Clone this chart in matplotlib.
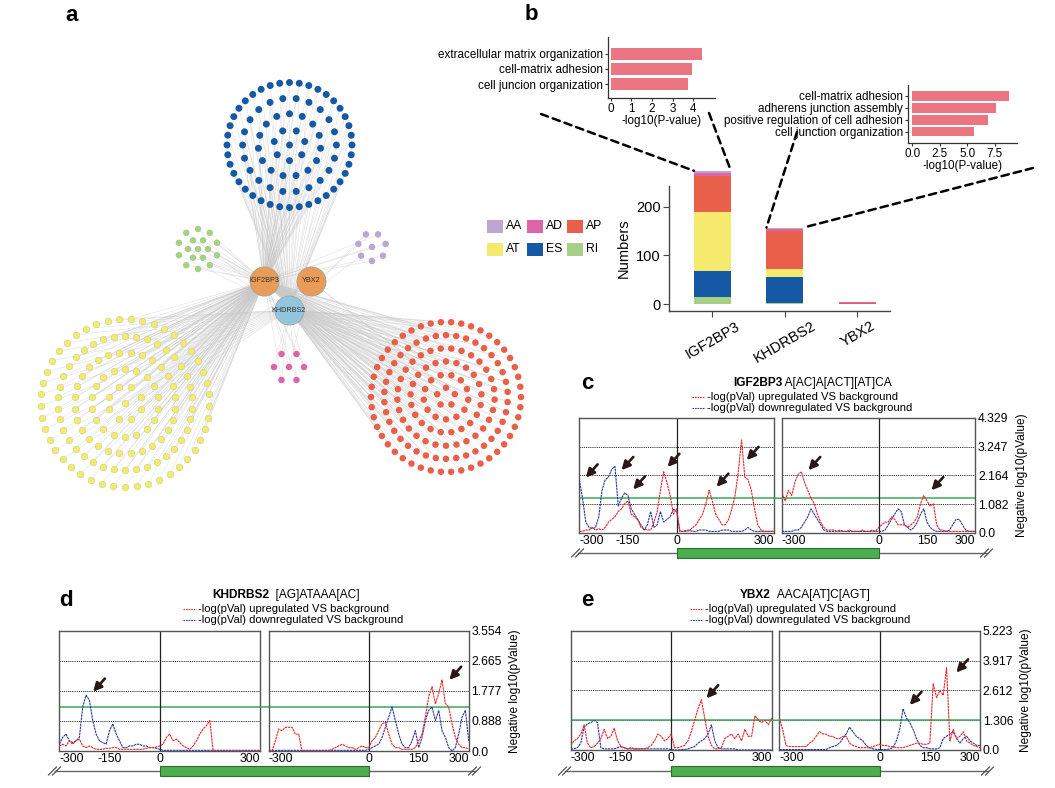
import numpy as np
import matplotlib
matplotlib.use('Agg')
import matplotlib.pyplot as plt
from matplotlib.patches import Rectangle, ConnectionPatch
from matplotlib.collections import LineCollection

plt.rcParams['font.family'] = ['Liberation Sans', 'DejaVu Sans']

# ---------------- data ----------------
categories = ['AA', 'AD', 'AP', 'AT', 'ES', 'RI']
stack_order = ['RI', 'ES', 'AT', 'AP', 'AD', 'AA']
rbps = ['IGF2BP3', 'KHDRBS2', 'YBX2']
counts_RI = [14, 3, 0]
counts_ES = [55, 52, 0]
counts_AT = [120, 17, 1]
counts_AP = [74, 77, 2]
counts_AD = [5, 5, 1]
counts_AA = [5, 3, 0]

# network: nodes per concentric ring (inner -> outer)
rings_ES = [1, 7, 15, 22, 40]
rings_AT = [1, 8, 18, 28, 38, 45]
rings_AP = [5, 13, 21, 29, 38, 46]
rings_RI = [1, 6, 10]
rings_AA = [1, 7]
rings_AD = [1, 6]

go1_terms = ['extracellular matrix organization', 'cell-matrix adhesion', 'cell juncion organization']
go1_values = [4.4, 3.95, 3.75]
go2_terms = ['cell-matrix adhesion', 'adherens junction assembly',
             'positive regulation of cell adhesion', 'cell junction organization']
go2_values = [8.8, 7.6, 6.9, 5.65]

positions = list(range(-300, 301, 10))

c_left_up = [0.05, 0.05, 0.1, 0.1, 0.2, 0.1, 0.15, 0.1, 0.2, 0.4,
             0.5, 0.6, 0.8, 0.9, 1.1, 1.2, 0.7, 0.6, 0.5, 0.2,
             0.15, 0.1, 0.1, 0.4, 0.8, 1.6, 2.3, 1.9, 1.4, 0.7,
             0.9, 0.05, 0.05, 0.1, 0.1, 0.2, 0.3, 0.5, 0.7, 1.1,
             1.6, 1.2, 0.7, 0.5, 0.3, 0.3, 0.5, 0.9, 1.4, 2.3,
             3.5, 2.1, 2.0, 1.6, 0.9, 0.3, 0.1, 0.05, 0.05, 0.05,
             0.05]
c_left_down = [2.0, 1.3, 0.4, 0.2, 0.15, 0.2, 0.6, 1.6, 2.0, 2.1,
               2.4, 2.5, 1.0, 1.3, 1.5, 1.4, 0.9, 0.7, 0.5, 0.3,
               0.1, 0.3, 0.8, 0.2, 0.3, 0.8, 0.4, 0.5, 0.6, 0.9,
               0.8, 0.05, 0.05, 0.05, 0.08, 0.05, 0.05, 0.1, 0.1, 0.1,
               0.05, 0.05, 0.05, 0.05, 0.1, 0.1, 0.1, 0.05, 0.05, 0.05,
               0.05, 0.1, 0.2, 0.1, 0.05, 0.05, 0.05, 0.05, 0.05, 0.05,
               0.05]
c_right_up = [1.5, 1.2, 1.6, 1.4, 1.9, 2.2, 2.3, 1.9, 1.6, 1.3,
              1.1, 0.7, 0.4, 0.2, 0.1, 0.1, 0.1, 0.05, 0.1, 0.05,
              0.05, 0.1, 0.05, 0.05, 0.05, 0.1, 0.05, 0.05, 0.1, 0.05,
              0.2, 0.3, 0.4, 0.4, 0.6, 0.5, 0.3, 0.3, 0.3, 0.2,
              0.3, 0.4, 0.6, 1.1, 1.4, 1.2, 1.0, 1.1, 0.3, 0.1,
              0.1, 0.05, 0.05, 0.05, 0.05, 0.05, 0.05, 0.05, 0.05, 0.05,
              0.05]
c_right_down = [0.05, 0.05, 0.05, 0.05, 0.1, 0.1, 0.2, 0.4, 0.6, 0.9,
                0.7, 0.5, 0.3, 0.1, 0.05, 0.05, 0.05, 0.05, 0.05, 0.05,
                0.05, 0.05, 0.05, 0.05, 0.05, 0.05, 0.05, 0.05, 0.05, 0.05,
                0.05, 0.05, 0.1, 0.3, 0.5, 0.7, 0.9, 0.8, 0.3, 0.2,
                0.1, 0.2, 0.4, 0.7, 0.9, 0.4, 0.2, 0.1, 0.05, 0.05,
                0.05, 0.05, 0.1, 0.3, 0.5, 0.5, 0.3, 0.1, 0.05, 0.05,
                0.05]

d_left_up = [0.15, 0.2, 0.15, 0.3, 0.2, 0.3, 0.35, 0.15, 0.1, 0.15,
             0.1, 0.05, 0.05, 0.05, 0.08, 0.08, 0.1, 0.1, 0.05, 0.05,
             0.05, 0.05, 0.05, 0.05, 0.05, 0.05, 0.08, 0.1, 0.1, 0.12,
             0.15, 0.2, 0.4, 0.5, 0.3, 0.35, 0.25, 0.15, 0.1, 0.05,
             0.15, 0.3, 0.5, 0.65, 0.75, 0.9, 0.0, 0.0, 0.0, 0.0,
             0.0, 0.0, 0.0, 0.0, 0.0, 0.0, 0.0, 0.0, 0.0, 0.0,
             0.0]
d_left_down = [0.2, 0.4, 0.5, 0.3, 0.25, 0.3, 0.4, 1.3, 1.65, 1.5,
               0.9, 0.5, 0.3, 0.25, 0.2, 0.6, 0.8, 0.5, 0.3, 0.1,
               0.1, 0.15, 0.15, 0.2, 0.2, 0.15, 0.15, 0.1, 0.1, 0.08,
               0.05, 0.02, 0.02, 0.02, 0.02, 0.02, 0.02, 0.02, 0.02, 0.02,
               0.02, 0.02, 0.02, 0.02, 0.02, 0.02, 0.02, 0.02, 0.02, 0.02,
               0.02, 0.02, 0.02, 0.02, 0.02, 0.02, 0.02, 0.02, 0.02, 0.02,
               0.02]
d_right_up = [0.0, 0.0, 0.3, 0.65, 0.6, 0.7, 0.7, 0.7, 0.5, 0.5,
              0.0, 0.0, 0.0, 0.0, 0.0, 0.0, 0.0, 0.0, 0.0, 0.05,
              0.1, 0.15, 0.2, 0.15, 0.1, 0.1, 0.05, 0.1, 0.15, 0.1,
              0.1, 0.3, 0.4, 0.6, 0.8, 0.85, 0.5, 0.2, 0.1, 0.1,
              0.05, 0.05, 0.05, 0.05, 0.1, 0.3, 0.5, 1.0, 1.6, 1.9,
              1.4, 1.7, 2.1, 1.4, 1.3, 0.8, 0.4, 0.2, 0.1, 0.1,
              0.05]
d_right_down = [0.02, 0.02, 0.02, 0.02, 0.02, 0.02, 0.02, 0.02, 0.02, 0.02,
                0.02, 0.02, 0.02, 0.02, 0.02, 0.02, 0.02, 0.02, 0.02, 0.02,
                0.02, 0.02, 0.02, 0.02, 0.02, 0.02, 0.02, 0.02, 0.02, 0.02,
                0.05, 0.1, 0.15, 0.2, 0.4, 0.7, 1.0, 1.3, 0.9, 0.5,
                0.2, 0.1, 0.1, 0.3, 0.6, 0.1, 0.4, 0.9, 1.2, 1.3,
                0.9, 1.2, 0.6, 0.4, 0.1, 0.0, 0.1, 0.5, 1.0, 1.2,
                0.3]

e_left_up = [0.2, 0.4, 0.5, 0.7, 1.1, 0.3, 0.1, 0.15, 0.3, 0.5,
             0.9, 0.5, 0.6, 0.95, 0.4, 0.15, 0.1, 0.05, 0.05, 0.05,
             0.05, 0.05, 0.05, 0.1, 0.2, 0.4, 0.7, 0.6, 0.4, 0.5,
             0.7, 0.1, 0.1, 0.15, 0.2, 0.4, 0.8, 1.3, 1.8, 2.2,
             1.4, 0.6, 0.2, 0.05, 0.05, 0.1, 0.5, 0.6, 0.7, 0.5,
             0.7, 0.4, 0.9, 0.6, 0.6, 1.5, 1.3, 1.2, 1.3, 1.1,
             1.4]
e_left_down = [0.05, 0.05, 0.1, 0.3, 1.0, 1.15, 1.2, 1.3, 1.2, 0.1,
               0.05, 0.05, 0.05, 0.05, 0.1, 0.15, 0.1, 0.05, 0.1, 0.05,
               0.05, 0.05, 0.05, 0.05, 0.05, 0.05, 0.05, 0.05, 0.05, 0.05,
               0.02, 0.0, 0.0, 0.02, 0.02, 0.05, 0.1, 0.15, 0.3, 0.4,
               0.5, 0.7, 1.1, 0.4, 0.1, 0.05, 0.05, 0.05, 0.05, 0.05,
               0.0, 0.0, 0.0, 0.0, 0.0, 0.0, 0.0, 0.0, 0.0, 0.0,
               0.0]
e_right_up = [1.4, 0.9, 0.2, 0.15, 0.15, 0.15, 0.15, 0.15, 0.15, 0.3,
              0.4, 0.6, 0.8, 0.7, 0.7, 0.6, 0.6, 0.5, 0.5, 0.6,
              0.6, 0.3, 0.2, 0.15, 0.1, 0.1, 0.1, 0.1, 0.15, 0.2,
              0.25, 0.2, 0.2, 0.15, 0.15, 0.1, 0.1, 0.1, 0.15, 0.2,
              0.25, 0.3, 0.3, 0.25, 0.25, 0.3, 2.9, 2.3, 2.6, 2.4,
              3.6, 0.4, 0.9, 0.5, 0.6, 0.8, 0.4, 0.3, 0.2, 0.15,
              0.1]
e_right_down = [0.02, 0.02, 0.02, 0.02, 0.02, 0.02, 0.02, 0.02, 0.02, 0.02,
                0.02, 0.02, 0.02, 0.02, 0.02, 0.1, 0.15, 0.2, 0.3, 0.5,
                0.7, 1.0, 0.8, 0.6, 0.5, 0.4, 0.2, 0.1, 0.05, 0.03,
                0.02, 0.02, 0.02, 0.05, 0.1, 0.4, 0.9, 1.8, 1.4, 1.2,
                0.9, 0.5, 0.2, 0.1, 0.1, 0.05, 0.05, 0.05, 0.1, 0.5,
                0.6, 0.7, 0.8, 0.5, 0.3, 0.5, 0.6, 0.4, 0.3, 0.2,
                0.2]

c_yticks = ['0.0', '1.082', '2.164', '3.247', '4.329']
d_yticks = ['0.0', '0.888', '1.777', '2.665', '3.554']
e_yticks = ['0.0', '1.306', '2.612', '3.917', '5.223']

# arrows: (position, value) of arrow heads
c_arrows_left = [(-280, 2.08), (-170, 2.36), (-134, 1.63), (-28, 2.48), (123, 1.73), (216, 2.74)]
c_arrows_right = [(-218, 2.36), (164, 1.6)]
d_arrows_left = [(-199, 1.75)]
d_arrows_right = [(242, 2.1)]
e_arrows_left = [(105, 2.26)]
e_arrows_right = [(90, 1.97), (229, 3.39)]

# ---------------- styles ----------------
cat_colors = {'AA': '#BDA6CF', 'AD': '#DD64A8', 'AP': '#E8604A', 'AT': '#F5E96E',
              'ES': '#1558A5', 'RI': '#A6CF88'}
RED = '#E8262B'
BLUE = '#2B3AA0'
GREEN_LINE = '#3DAA5C'

W, H = 1055, 788
fig = plt.figure(figsize=(W / 100, H / 100), dpi=100)


def px_axes(x0, y0, x1, y1):
    return fig.add_axes([x0 / W, 1 - y1 / H, (x1 - x0) / W, (y1 - y0) / H])


ov = fig.add_axes([0, 0, 1, 1])
ov.set_xlim(0, W)
ov.set_ylim(H, 0)
ov.axis('off')
ov.patch.set_alpha(0)

# panel letters
for lab, (x, y) in zip('abcde', [(72, 15), (531, 14), (587, 383), (66, 601), (587, 601)]):
    ov.text(x, y, lab, fontsize=16, fontweight='bold', ha='center', va='center')

# ---------------- panel a: network ----------------
ax_a = px_axes(0, 30, 530, 500)
ax_a.set_xlim(0, 530)
ax_a.set_ylim(500, 30)
ax_a.axis('off')

cluster_layout = {'ES': ((289.5, 145), 62.5), 'AT': ((125, 403), 84), 'AP': ((446, 397), 75),
                  'RI': ((198, 249), 20), 'AA': ((372, 247), 14), 'AD': ((289, 367), 15)}
cluster_rings = {'ES': rings_ES, 'AT': rings_AT, 'AP': rings_AP,
                 'RI': rings_RI, 'AA': rings_AA, 'AD': rings_AD}
cat_counts = {'RI': counts_RI, 'ES': counts_ES, 'AT': counts_AT,
              'AP': counts_AP, 'AD': counts_AD, 'AA': counts_AA}
hub_pos = {'IGF2BP3': (264, 281), 'YBX2': (311, 281), 'KHDRBS2': (289, 310)}
hub_col = {'IGF2BP3': '#E99B58', 'YBX2': '#E99B58', 'KHDRBS2': '#93C6DD'}

node_xy = {}
for cat, ((cx, cy), R) in cluster_layout.items():
    rings = cluster_rings[cat]
    n = len(rings)
    if rings[0] == 1:
        radii = np.linspace(0, R, n)
    else:
        step = R / (n - 1 + 0.7)
        radii = np.array([0.7 * step + i * step for i in range(n)])
    pts = []
    for k, (cnt, r) in enumerate(zip(rings, radii)):
        off = 0.0 if k % 2 == 0 else np.pi / cnt
        for j in range(cnt):
            ang = -np.pi / 2 + off + 2 * np.pi * j / cnt
            pts.append((cx + r * np.cos(ang), cy + r * np.sin(ang)))
    node_xy[cat] = np.array(pts)

segs = []
for cat, pts in node_xy.items():
    n = len(pts)
    c = cat_counts[cat]
    for i, p in enumerate(pts):
        if i < min(n, c[0]):
            segs.append([hub_pos['IGF2BP3'], p])
        if i >= n - c[1]:
            segs.append([hub_pos['KHDRBS2'], p])
        if i < c[2]:
            segs.append([hub_pos['YBX2'], p])
ax_a.add_collection(LineCollection(segs, colors='#c8c8c8', linewidths=0.35, alpha=0.6, zorder=1))

for cat, pts in node_xy.items():
    ec = '#cdd98a' if cat == 'AT' else 'none'
    ax_a.scatter(pts[:, 0], pts[:, 1], s=22 if cat != 'ES' else 25, color=cat_colors[cat],
                 edgecolors=ec, linewidths=0.5, zorder=3)

for hub, (hx, hy) in hub_pos.items():
    ax_a.scatter([hx], [hy], s=440, color=hub_col[hub], edgecolors='#a0a0a0', linewidths=0.5, zorder=4)
    ax_a.text(hx, hy, hub, fontsize=5.2, ha='center', va='center', color='#333333', zorder=5)

# ---------------- panel b: stacked bars ----------------
ax_b = px_axes(669, 186, 890, 310.7)
xpos = np.arange(len(rbps))
bottom = np.zeros(len(rbps))
for cat in stack_order:
    vals = np.array(cat_counts[cat], dtype=float)
    ax_b.bar(xpos, vals, bottom=bottom, width=0.51, color=cat_colors[cat], edgecolor='none', clip_on=False)
    bottom += vals
totals = bottom.copy()
ax_b.set_xlim(-0.6, 2.45)
ax_b.set_ylim(-13, 242)
ax_b.set_yticks([0, 100, 200])
ax_b.set_xticks(xpos)
ax_b.set_xticklabels(rbps, rotation=30, ha='center', va='top')
for s in ['top', 'right']:
    ax_b.spines[s].set_visible(False)
for s in ['left', 'bottom']:
    ax_b.spines[s].set_color('#444444')
    ax_b.spines[s].set_linewidth(1.0)
ax_b.tick_params(labelsize=10.5, length=4, color='#444444', pad=2)
ax_b.set_ylabel('Numbers', fontsize=10.5, labelpad=4)

# legend
leg_cols = [487, 527, 567]
leg_rows = [226, 249]
for i, cat in enumerate(categories):
    x = leg_cols[i % 3]
    y = leg_rows[i // 3]
    ov.add_patch(Rectangle((x, y - 6.5), 16, 13, color=cat_colors[cat], lw=0))
    ov.text(x + 19, y, cat, fontsize=8.8, ha='left', va='center')


def go_inset(ax, terms, values, xlim, ylim, xticks, xticklabels):
    ax.barh(np.arange(len(terms)), values, height=0.8, color='#EB7681', edgecolor='none')
    ax.set_xlim(*xlim)
    ax.set_ylim(*ylim)
    ax.set_yticks(np.arange(len(terms)))
    ax.set_yticklabels(terms)
    ax.set_xticks(xticks)
    ax.set_xticklabels(xticklabels)
    for s in ['top', 'right']:
        ax.spines[s].set_visible(False)
    for s in ['left', 'bottom']:
        ax.spines[s].set_color('#333333')
        ax.spines[s].set_linewidth(0.9)
    ax.tick_params(labelsize=8.4, length=2.5, pad=1, color='#333333')
    ax.set_xlabel('-log10(P-value)', fontsize=8.4, labelpad=0)


ins1 = px_axes(608, 37, 715, 98)
go_inset(ins1, go1_terms, go1_values, (-0.13, 5.05), (2.92, -1.1), [0, 1, 2, 3, 4], ['0', '1', '2', '3', '4'])
ins2 = px_axes(908, 85, 1017, 142.7)
go_inset(ins2, go2_terms, go2_values, (-0.4, 9.54), (3.92, -0.9), [0, 2.5, 5, 7.5], ['0.0', '2.5', '5.0', '7.5'])

dash_kw = dict(linestyle=(0, (3, 2)), lw=1.8, color='black', zorder=10)
for (sx, sy), bi, side in [((541, 114), 0, -1), ((709, 113), 0, 1), ((797, 132), 1, -1), ((1033, 168), 1, 1)]:
    cp = ConnectionPatch(xyA=(sx, sy), coordsA=ov.transData,
                         xyB=(xpos[bi] + side * 0.255, totals[bi]), coordsB=ax_b.transData, **dash_kw)
    fig.add_artist(cp)

# ---------------- panels c, d, e ----------------
pos = np.array(positions)


def motif_panel(box_l, box_r, up_l, down_l, up_r, down_r, ylabels, arrows_l, arrows_r):
    yv = [float(v) for v in ylabels]
    ymax = yv[-1]
    axL = px_axes(*box_l)
    axR = px_axes(*box_r)
    for ax, up, down, xt, arrows in ((axL, up_l, down_l, [-300, -150, 0, 300], arrows_l),
                                     (axR, up_r, down_r, [-300, 0, 150, 300], arrows_r)):
        for v in yv[1:-1]:
            ax.axhline(v, color='#333333', ls=(0, (1.2, 1.0)), lw=0.7, zorder=1)
        ax.axhline(1.301, color=GREEN_LINE, lw=1.1, zorder=2)
        ax.axvline(0, color='#222222', lw=0.9, zorder=2)
        ax.plot(pos, down, color=BLUE, lw=0.8, ls=(0, (2.2, 0.6)), zorder=3)
        ax.plot(pos, up, color=RED, lw=0.8, ls=(0, (2.2, 0.6)), zorder=4)
        ax.set_xlim(-300, 300)
        ax.set_ylim(0, ymax)
        ax.set_xticks(xt)
        ax.set_xticklabels([str(v) for v in xt])
        for v, lab in zip(xt, ax.get_xticklabels()):
            if v == -300:
                lab.set_ha('left')
                lab.set_x(0)
            elif v == 300:
                lab.set_ha('right')
        ax.set_yticks([])
        ax.tick_params(axis='x', length=0, labelsize=8.8, pad=1.5)
        for s in ax.spines.values():
            s.set_color('#555555')
            s.set_linewidth(1.0)
        for (hx, hy) in arrows:
            ax.annotate('', xy=(hx, hy), xytext=(8.5, 9.5), textcoords='offset points',
                        arrowprops=dict(arrowstyle='-|>,head_length=0.5,head_width=0.25',
                                        color='#2a1818', lw=1.9, shrinkA=0, shrinkB=0), zorder=6)
    axR.yaxis.tick_right()
    axR.set_yticks(yv)
    axR.set_yticklabels(ylabels)
    axR.tick_params(axis='y', length=0, labelsize=8.8, pad=2)
    axR.yaxis.set_label_position('right')
    axR.set_ylabel('Negative log10(pValue)', fontsize=8.6, labelpad=5)
    fig.add_artist(ConnectionPatch(xyA=(300, 1.301), coordsA=axL.transData,
                                   xyB=(-300, 1.301), coordsB=axR.transData, color=GREEN_LINE, lw=1.1))
    return axL, axR


def header(x, y, gene, motif, leg_x):
    t = ov.text(x, y, gene, fontsize=8.6, fontweight='bold', ha='left', va='center')
    ov.annotate(motif, xy=(1, 0.5), xycoords=t, fontsize=8.6, ha='left', va='center')
    for dy, col, txt in [(14, RED, '-log(pVal) upregulated VS background'),
                         (25, BLUE, '-log(pVal) downregulated VS background')]:
        ov.plot([leg_x, leg_x + 13], [y + dy, y + dy], color=col, lw=0.8, ls=(0, (1.5, 0.8)))
        ov.text(leg_x + 15, y + dy, txt, fontsize=8.1, ha='left', va='center')


def gene_diagram(y, x_start, x_end, axL, axR):
    ov.plot([x_start, x_end], [y, y], color='#666666', lw=1.0, zorder=1)
    for xe in (x_start, x_end):
        for dx in (-2.5, 1.5):
            ov.plot([xe + dx - 4, xe + dx + 4], [y + 4, y - 4], color='#444444', lw=0.8)
    # coding box spans from position 0 of left plot to position 0 of right plot
    p0 = ov.transData.inverted().transform(axL.transData.transform((0, 0)))
    p1 = ov.transData.inverted().transform(axR.transData.transform((0, 0)))
    ov.add_patch(Rectangle((p0[0], y - 5), p1[0] - p0[0], 10, facecolor='#4DAE4F',
                           edgecolor='#2E6B30', lw=0.8, zorder=2))


header(733, 383, 'IGF2BP3', ' A[AC]A[ACT][AT]CA', 692)
cL, cR = motif_panel((579.3, 418, 774, 532.7), (782, 418, 975.3, 532.7),
                     c_left_up, c_left_down, c_right_up, c_right_down, c_yticks,
                     c_arrows_left, c_arrows_right)
gene_diagram(553, 578, 987, cL, cR)

header(212, 595, 'KHDRBS2', '  [AG]ATAAA[AC]', 183)
dL, dR = motif_panel((59.3, 630.7, 260, 751), (268.7, 630.7, 468.7, 751),
                     d_left_up, d_left_down, d_right_up, d_right_down, d_yticks,
                     d_arrows_left, d_arrows_right)
gene_diagram(771, 55, 475, dL, dR)

header(740, 595, 'YBX2', '  AACA[AT]C[AGT]', 690)
eL, eR = motif_panel((570.7, 630.7, 771.7, 750), (779.3, 630.7, 980, 750),
                     e_left_up, e_left_down, e_right_up, e_right_down, e_yticks,
                     e_arrows_left, e_arrows_right)
gene_diagram(771, 565, 988, eL, eR)

fig.savefig('out.png', dpi=100)
